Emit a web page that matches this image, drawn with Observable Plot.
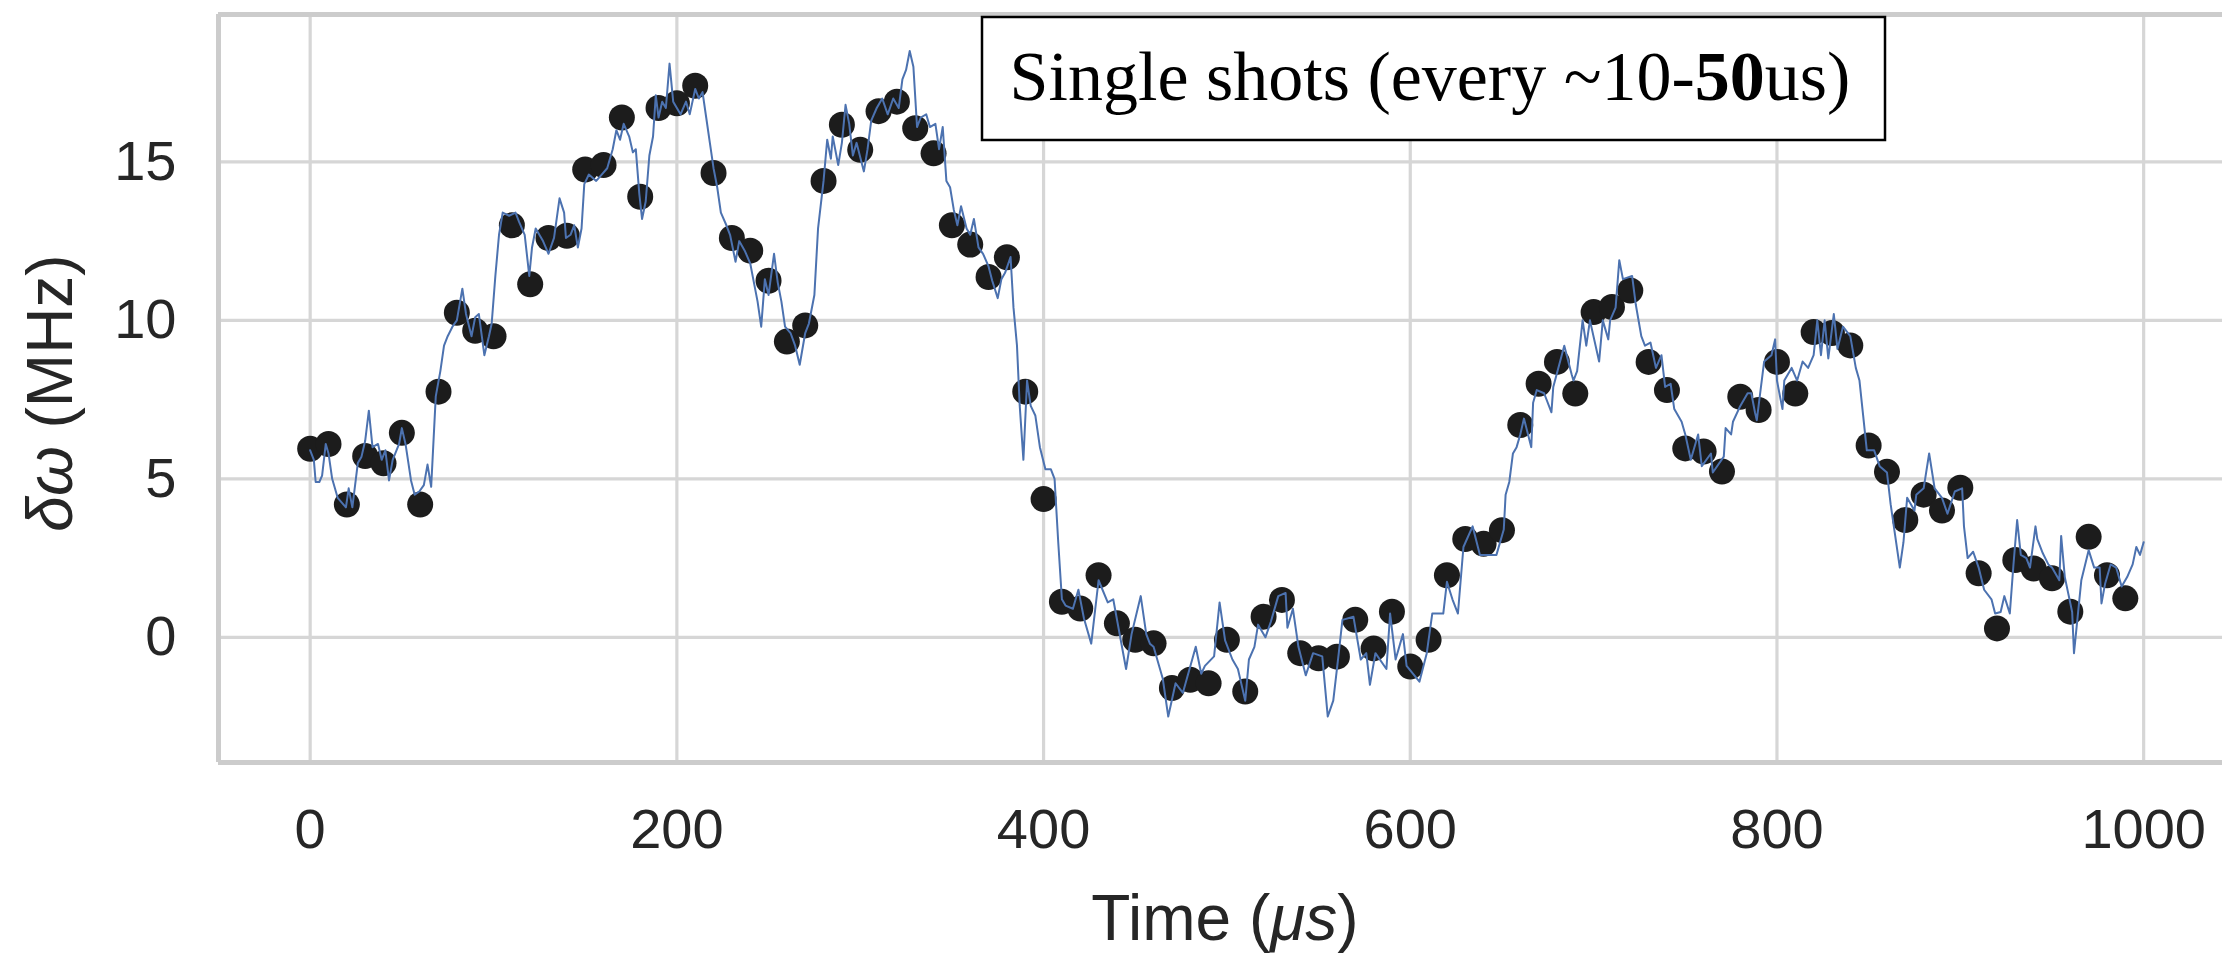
<!DOCTYPE html>
<html><head><meta charset="utf-8">
<script src="https://cdn.jsdelivr.net/npm/d3@7"></script>
<script src="https://cdn.jsdelivr.net/npm/@observablehq/plot@0.6"></script>
<style>html,body{margin:0;padding:0;background:#fff;} #chart{width:2222px;height:955px;overflow:hidden;}</style>
</head><body><div id="chart"></div>
<script>
// Single-shot estimates (black dots)
const shotTimes = [0,10,20,30,40,50,60,70,80,90,100,110,120,130,140,150,160,170,180,190,200,210,220,230,240,250,260,270,280,290,300,310,320,330,340,350,360,370,380,390,400,410,420,430,440,450,460,470,480,490,500,510,520,530,540,550,560,570,580,590,600,610,620,630,640,650,660,670,680,690,700,710,720,730,740,750,760,770,780,790,800,810,820,830,840,850,860,870,880,890,900,910,920,930,940,950,960,970,980,990];
const shotValues = [5.95,6.1,4.19,5.72,5.49,6.45,4.19,7.75,10.24,9.67,9.5,13.0,11.14,12.6,12.67,14.76,14.9,16.4,13.9,16.7,16.85,17.4,14.65,12.6,12.2,11.25,9.33,9.84,14.4,16.17,15.38,16.6,16.9,16.06,15.27,13.0,12.39,11.37,11.99,7.75,4.36,1.12,0.91,1.96,0.44,-0.08,-0.19,-1.6,-1.34,-1.45,-0.08,-1.71,0.65,1.18,-0.5,-0.66,-0.61,0.55,-0.35,0.81,-0.92,-0.08,1.96,3.1,2.95,3.38,6.7,8.0,8.69,7.69,10.26,10.42,10.94,8.69,7.8,5.96,5.86,5.23,7.59,7.17,8.69,7.69,9.63,9.6,9.21,6.05,5.22,3.7,4.5,4.0,4.72,2.02,0.28,2.44,2.17,1.86,0.81,3.17,1.96,1.23];

// Continuous trace (blue line)
const traceTimes = [0,2,3,5,6.5,8.5,10,12,15,19.5,21,23,26,28,30,32,34,37,39,41,43,45,48.5,50,52,55,57,59.5,62,64,66,68.5,71,73,75,77.6,80,83,85,88,90,92,95,97.5,99,101,103,105,108.5,112,114,117,119.5,121,123,127,130,133,136,138.5,139.5,142,144,146,148,149.5,152,156,159,162,165,167,169,171,174,176,177.6,179.5,181,183,185,187,188.5,190,192,194,196,198,200,202,205,207,210,212,214,216,218,220,222,224,227,229,232,234,237,240,242,244,246,248,250,253,255,257,259,262,264.5,267,270,272,275,277,280,282,284,285,288,290,292,294,296,298,302,304,306,309,312,315,318,321,323,325,327,329,331,333,336,338,341,343,345,347,349,351,353,355,358,360,362,364.5,367,370,372,375,377,379,382,383.6,385.5,387,389,391,393,395.5,398,401,404,406,408,410,412,416,419,422,426,430,435,438,445,448,453,456,458,460,465,468,472,476,483,486,488,493,496,499,503,506,510,512,515,517,521,524,528,532,533,536,539,543,547,552,555,558,561,563,569,573,576,578,581,587,589,592,596,598,605,609,612,618,620,623,626,629,634,638,642,647,651,652,654,656,658,660,662,666,667,669,673,677,678,684,688,689,691,694,696,698,703,705,708,709,712,714,716,721,723,726,728,731,734,737,739,742,744,748,750,753,757,759,764,765,771,772,775,776,780,784,786,788,789,793,797,799,800,803,804,808,811,814,817,820,822,824,826,828,831,833,836,840,843,845,847,849,853,856,860,862,864,867,869,871,875,876,880,883,886,890,893,897,901,902,904,907,910,913,917,919,922,924,927,929,931,933,936,938,941,942,945,948,950,954,955,957,961,962,964,966,970,973,976,977,979,982,985,988,991,994,996,998,1000];
const traceValues = [5.9,5.6,4.9,4.9,5.1,6.1,5.8,5.0,4.4,4.1,4.7,4.1,5.5,5.7,6.2,7.15,6.0,6.1,5.6,5.9,4.95,5.6,6.1,6.6,6.1,4.95,4.5,4.6,4.8,5.45,4.75,7.6,8.4,9.2,9.5,9.8,10.0,11.0,10.2,9.5,10.1,10.2,8.9,9.5,9.9,11.4,12.7,13.4,13.3,13.4,13.1,12.7,11.4,12.3,12.9,12.5,12.1,12.6,13.85,13.4,12.6,12.7,13.0,12.3,12.9,14.3,14.6,14.4,14.6,14.8,15.4,16.0,15.7,16.2,15.8,15.3,15.4,14.0,13.2,13.75,15.2,15.8,17.1,16.4,16.9,16.7,18.1,16.9,16.7,16.5,16.9,16.5,17.3,17.0,17.2,16.4,15.6,14.8,14.2,13.4,13.0,12.7,11.85,12.5,12.2,11.8,11.2,10.6,9.8,11.3,10.8,12.1,11.2,10.6,9.8,9.6,9.2,8.6,9.6,9.9,10.8,12.9,14.4,15.7,15.1,15.8,14.9,15.6,16.8,16.2,15.2,15.6,14.7,15.4,16.3,16.7,17.0,16.5,17.0,16.7,17.6,17.9,18.5,18.0,16.1,16.4,16.5,16.1,16.2,15.4,16.1,14.4,14.2,13.5,13.0,13.6,12.9,12.7,13.2,12.3,12.1,11.7,11.25,10.7,11.3,11.5,12.0,10.4,9.2,7.3,5.6,8.1,7.3,7.0,6.0,5.3,5.3,5.0,3.0,1.2,1.0,0.9,1.5,0.6,-0.2,1.8,1.1,1.2,-1.0,0.1,1.3,0.1,-0.2,-0.3,-1.3,-2.5,-1.45,-1.75,-0.3,-1.15,-0.9,-0.6,1.1,-0.1,-0.7,-1.0,-2.0,-0.7,-0.3,0.4,0.0,0.5,1.3,1.4,0.3,0.9,-0.3,-1.2,-0.5,-0.6,-2.5,-2.0,-0.5,0.55,0.65,-0.7,-0.5,-1.5,-0.5,-1.0,0.75,-0.7,0.1,-0.9,-1.4,-0.5,0.75,0.75,1.75,1.2,0.75,2.85,3.5,2.6,2.6,2.6,3.4,4.5,4.9,5.8,6.0,6.4,6.9,6.0,7.4,7.8,7.7,7.1,7.9,9.2,8.3,8.1,8.4,10.0,9.2,10.0,8.7,10.0,9.4,10.0,10.4,11.9,11.3,11.4,10.5,9.5,9.2,9.3,8.5,8.9,7.9,8.0,7.2,6.8,6.4,5.6,6.4,5.4,5.8,5.2,5.7,6.6,6.4,6.8,7.3,7.7,7.7,7.1,6.85,8.7,8.9,9.4,8.1,7.2,8.1,8.5,8.1,8.7,8.5,8.9,10.0,8.9,10.0,8.8,10.2,9.1,9.8,9.5,8.5,8.1,7.0,5.9,5.9,5.4,5.2,4.2,3.4,2.2,3.0,4.4,4.0,4.5,4.7,5.8,4.7,4.4,3.9,4.6,4.7,3.5,2.5,2.7,2.2,1.5,1.2,0.75,0.8,1.3,0.75,2.3,3.7,2.6,2.5,2.2,3.5,3.1,2.65,2.3,2.2,1.8,3.2,1.9,0.8,-0.5,0.65,1.8,2.75,2.2,2.2,1.07,1.7,2.3,2.2,1.6,1.9,2.3,2.85,2.6,3.0];

const xTicks = [0, 200, 400, 600, 800, 1000];
const yTicks = [0, 5, 10, 15];
const xDomain = [-50, 1043];
const yDomain = [-3.95, 19.65];

const xLabelPlain = "Time (";
const xLabelItalic = "\u03bcs";
const xLabelEnd = ")";
const yLabelItalic = "\u03b4\u03c9";
const yLabelPlain = " (MHz)";
const titlePrefix = "Single shots (every ~10-";
const titleBold = "50";
const titleSuffix = "us)";

const shots = shotTimes.map((t, i) => ({t, v: shotValues[i]}));
const trace = traceTimes.map((t, i) => ({t, v: traceValues[i]}));

const sans = "'Liberation Sans', Arial, Helvetica, sans-serif";
const spine = "#cccccc";
const grid = "#d6d6d6";

const plot = Plot.plot({
  width: 2222,
  height: 955,
  marginLeft: 218,
  marginRight: 0,
  marginTop: 14,
  marginBottom: 193,
  style: {fontFamily: sans, color: "#262626", background: "#ffffff"},
  x: {domain: xDomain},
  y: {domain: yDomain},
  marks: [
    Plot.gridX(xTicks, {stroke: grid, strokeOpacity: 1, strokeWidth: 3.2}),
    Plot.gridY(yTicks, {stroke: grid, strokeOpacity: 1, strokeWidth: 3.2}),
    Plot.ruleX([xDomain[0]], {stroke: spine, strokeWidth: 5}),
    Plot.ruleY(yDomain, {stroke: spine, strokeWidth: 5}),
    Plot.axisX(xTicks, {tickSize: 0, tickPadding: 46, fontSize: 56, label: null, tickFormat: d => String(d)}),
    Plot.axisY(yTicks, {tickSize: 0, tickPadding: 42, fontSize: 56, label: null, tickFormat: d => String(d)}),
    Plot.dot(shots, {x: "t", y: "v", r: 13, fill: "#1c1c1c", stroke: null}),
    Plot.line(trace, {x: "t", y: "v", stroke: "#4c72b0", strokeWidth: 2, strokeLinejoin: "round"})
  ]
});

const svg = d3.select(plot);

// x-axis label
const xl = svg.append("text")
  .attr("x", 1225).attr("y", 940)
  .attr("text-anchor", "middle")
  .attr("font-family", sans).attr("font-size", 64).attr("fill", "#262626");
xl.append("tspan").text(xLabelPlain);
xl.append("tspan").attr("font-style", "italic").text(xLabelItalic);
xl.append("tspan").text(xLabelEnd);

// y-axis label
const yl = svg.append("text")
  .attr("transform", "translate(72,393) rotate(-90)")
  .attr("text-anchor", "middle")
  .attr("font-family", sans).attr("font-size", 64).attr("fill", "#262626");
yl.append("tspan").attr("font-style", "italic").text(yLabelItalic);
yl.append("tspan").text(yLabelPlain);

// annotation box
const box = svg.append("g");
box.append("rect")
  .attr("x", 982).attr("y", 17).attr("width", 903).attr("height", 123)
  .attr("fill", "#ffffff").attr("stroke", "#000000").attr("stroke-width", 2.5);
const tt = box.append("text")
  .attr("x", 1430).attr("y", 100)
  .attr("text-anchor", "middle")
  .attr("font-family", "'Liberation Serif', 'Times New Roman', serif")
  .attr("font-size", 70).attr("fill", "#000000");
tt.append("tspan").text(titlePrefix);
tt.append("tspan").attr("font-weight", "bold").text(titleBold);
tt.append("tspan").text(titleSuffix);

document.getElementById("chart").appendChild(plot);
</script>
</body></html>
